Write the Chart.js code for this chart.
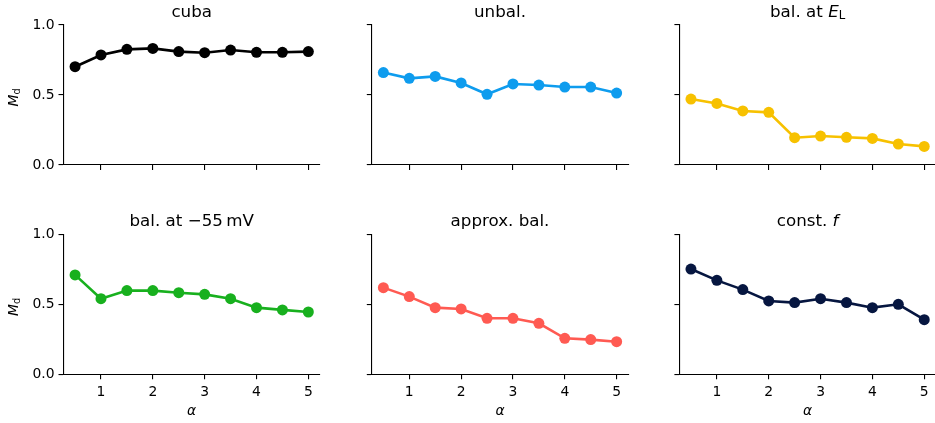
<!DOCTYPE html>
<html lang="en">
<head>
<meta charset="UTF-8">
<title>M_d vs alpha</title>
<script src="https://cdn.jsdelivr.net/npm/chart.js@4.4.0/dist/chart.umd.min.js"></script>
<style>
    body { margin: 0; width: 935px; height: 423px; overflow: hidden; background: #fff; position: relative; }
    canvas { position: absolute; }
</style>
</head>
<body>
<script>
    // values
    var alphas = [0.5, 1, 1.5, 2, 2.5, 3, 3.5, 4, 4.5, 5];
    var xTicks = [1, 2, 3, 4, 5];
    var yTicks = [0, 0.5, 1];

    var cuba       = [0.702, 0.786, 0.826, 0.833, 0.810, 0.802, 0.821, 0.805, 0.805, 0.810];
    var unbal      = [0.660, 0.619, 0.633, 0.586, 0.505, 0.579, 0.571, 0.557, 0.557, 0.514];
    var balEL      = [0.471, 0.440, 0.386, 0.376, 0.195, 0.207, 0.198, 0.190, 0.150, 0.133];
    var bal55      = [0.710, 0.540, 0.598, 0.598, 0.583, 0.571, 0.540, 0.476, 0.460, 0.445];
    var approxBal  = [0.619, 0.555, 0.476, 0.467, 0.400, 0.400, 0.364, 0.257, 0.248, 0.233];
    var constF     = [0.752, 0.671, 0.605, 0.524, 0.512, 0.540, 0.512, 0.476, 0.500, 0.390];

    var panels = [
        { title: [['cuba', 'n']], values: cuba, color: '#000000' },
        { title: [['unbal.', 'n']], values: unbal, color: '#0e9cee' },
        { title: [['bal. at ', 'n'], ['E', 'it'], ['L', 'sub']], values: balEL, color: '#f7c100' },
        { title: [['bal. at \u221255\u2009mV', 'n']], values: bal55, color: '#18b01e' },
        { title: [['approx. bal.', 'n']], values: approxBal, color: '#ff5a52' },
        { title: [['const. ', 'n'], ['f', 'it']], values: constF, color: '#061640' }
    ];

    var cols = [
        { left: 0, width: 325, axisW: 63.4 },
        { left: 320, width: 313, axisW: 51.7 },
        { left: 630, width: 306, axisW: 49.3 }
    ];
    var rows = [
        { top: 0, height: 200, padTop: 25 },
        { top: 200, height: 223, padTop: 34.3 }
    ];
    var plotW = 256.6, plotH = 140;
    var FONT = '"DejaVu Sans"';

    function drawRich(ctx, segs, size) {
        var parts = segs.map(function (s) {
            var sz = s[1] === 'sub' ? size * 0.7 : size;
            var font = (s[1] === 'it' ? 'italic ' : '') + sz + 'px ' + FONT;
            ctx.font = font;
            return { t: s[0], font: font, w: ctx.measureText(s[0]).width, dy: s[1] === 'sub' ? size * 0.15 : 0 };
        });
        var total = parts.reduce(function (a, p) { return a + p.w; }, 0);
        var cx = -total / 2;
        ctx.textAlign = 'left';
        ctx.textBaseline = 'alphabetic';
        parts.forEach(function (p) {
            ctx.font = p.font;
            ctx.fillText(p.t, cx, p.dy);
            cx += p.w;
        });
    }

    panels.forEach(function (p, i) {
        var c = i % 3, r = Math.floor(i / 3);
        var col = cols[c], row = rows[r];

        var canvas = document.createElement('canvas');
        canvas.width = col.width;
        canvas.height = row.height;
        canvas.style.left = col.left + 'px';
        canvas.style.top = row.top + 'px';
        canvas.style.width = col.width + 'px';
        canvas.style.height = row.height + 'px';
        document.body.appendChild(canvas);

        var labels = {
            id: 'labels' + i,
            afterDraw: function (chart) {
                var ctx = chart.ctx, a = chart.chartArea;
                var mid = (a.left + a.right) / 2;
                ctx.save();
                ctx.fillStyle = '#000';
                ctx.translate(mid, a.top - 8.3);
                drawRich(ctx, p.title, 16.7);
                ctx.restore();

                if (c === 0) {
                    ctx.save();
                    ctx.fillStyle = '#000';
                    ctx.translate(18.3, (a.top + a.bottom) / 2 + 2.5);
                    ctx.rotate(-Math.PI / 2);
                    drawRich(ctx, [['M', 'it'], ['d', 'sub']], 13.9);
                    ctx.restore();
                }
                if (r === 1) {
                    ctx.save();
                    ctx.fillStyle = '#000';
                    ctx.translate(mid, a.bottom + 40.7);
                    drawRich(ctx, [['\u03b1', 'it']], 13.9);
                    ctx.restore();
                }
            }
        };

        new Chart(canvas, {
            type: 'line',
            data: {
                datasets: [{
                    data: alphas.map(function (a, k) { return { x: a, y: p.values[k] }; }),
                    borderColor: p.color,
                    backgroundColor: p.color,
                    pointBackgroundColor: p.color,
                    pointBorderWidth: 0,
                    pointRadius: 5.5,
                    borderWidth: 2.6,
                    tension: 0,
                    clip: false
                }]
            },
            options: {
                responsive: false,
                animation: false,
                devicePixelRatio: 1,
                layout: { autoPadding: false, padding: { top: row.padTop, right: col.width - col.axisW - plotW, left: 0, bottom: 0 } },
                plugins: { legend: { display: false }, tooltip: { enabled: false }, title: { display: false } },
                scales: {
                    x: {
                        type: 'linear',
                        min: 0.275,
                        max: 5.225,
                        afterBuildTicks: function (s) { s.ticks = xTicks.map(function (v) { return { value: v }; }); },
                        afterFit: function (s) { s.height = row.height - row.padTop - plotH; },
                        grid: { drawOnChartArea: false, drawTicks: true, tickLength: 4.9, color: '#000', lineWidth: 1.1 },
                        border: { display: true, color: '#000', width: 1.1 },
                        ticks: {
                            color: '#000',
                            font: { family: 'DejaVu Sans', size: 13.9 },
                            padding: 5,
                            maxRotation: 0,
                            autoSkip: false,
                            callback: function (v) { return r === 1 ? String(v) : ''; }
                        }
                    },
                    y: {
                        min: 0,
                        max: 1,
                        afterBuildTicks: function (s) { s.ticks = yTicks.map(function (v) { return { value: v }; }); },
                        afterFit: function (s) { s.width = col.axisW; },
                        grid: { drawOnChartArea: false, drawTicks: true, tickLength: 4.9, color: '#000', lineWidth: 1.1 },
                        border: { display: true, color: '#000', width: 1.1 },
                        ticks: {
                            color: '#000',
                            font: { family: 'DejaVu Sans', size: 13.9 },
                            padding: 4,
                            callback: function (v) { return c === 0 ? v.toFixed(1) : ''; }
                        }
                    }
                }
            },
            plugins: [labels]
        });
    });
</script>
</body>
</html>
